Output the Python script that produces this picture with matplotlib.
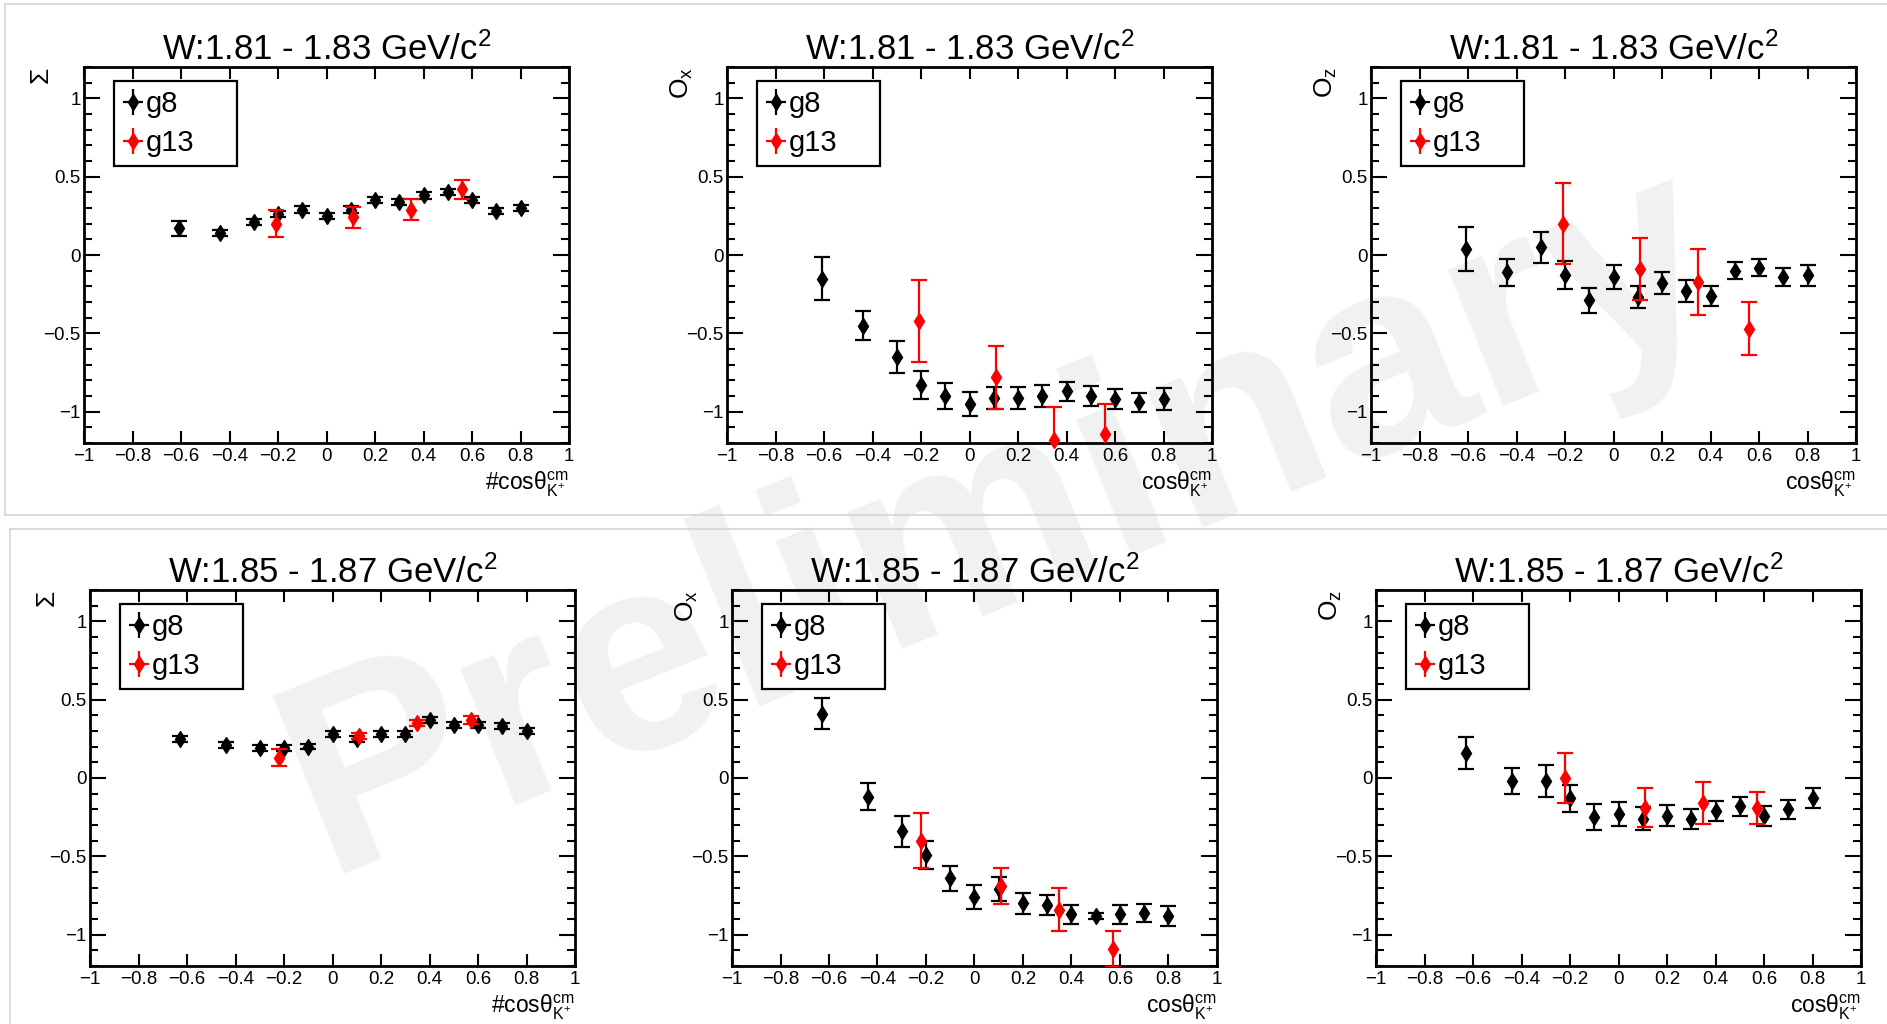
import numpy as np
import matplotlib
matplotlib.use("Agg")
import matplotlib.pyplot as plt
from matplotlib.lines import Line2D
from matplotlib.ticker import FixedLocator, MultipleLocator, FuncFormatter

plt.rcParams['font.family'] = ['Liberation Sans', 'DejaVu Sans']
plt.rcParams['mathtext.fontset'] = 'custom'
plt.rcParams['mathtext.rm'] = 'Liberation Sans'
plt.rcParams['mathtext.it'] = 'Liberation Sans:italic'
plt.rcParams['mathtext.bf'] = 'Liberation Sans:bold'

# ---------------- data ----------------
x8_a = [-0.61, -0.44, -0.30, -0.20, -0.10, 0.00, 0.10, 0.20, 0.30, 0.40, 0.50, 0.60, 0.70, 0.80]
x13_a = [-0.21, 0.11, 0.35, 0.56]
x8_b = [-0.63, -0.44, -0.30, -0.20, -0.10, 0.00, 0.10, 0.20, 0.30, 0.40, 0.50, 0.60, 0.70, 0.80]
x13_b = [-0.22, 0.11, 0.35, 0.57]

sigma_a_g8 = [0.17, 0.14, 0.21, 0.26, 0.29, 0.25, 0.29, 0.35, 0.34, 0.38, 0.40, 0.35, 0.28, 0.30]
sigma_a_g8_err = [0.05, 0.02, 0.02, 0.02, 0.02, 0.02, 0.02, 0.02, 0.02, 0.02, 0.02, 0.02, 0.02, 0.02]
sigma_a_g13 = [0.20, 0.24, 0.29, 0.42]
sigma_a_g13_err = [0.085, 0.065, 0.065, 0.06]

ox_a_g8 = [-0.15, -0.45, -0.65, -0.83, -0.90, -0.95, -0.91, -0.91, -0.90, -0.87, -0.90, -0.92, -0.94, -0.92]
ox_a_g8_err = [0.14, 0.09, 0.10, 0.09, 0.08, 0.075, 0.07, 0.07, 0.07, 0.06, 0.065, 0.065, 0.06, 0.07]
ox_a_g13 = [-0.42, -0.78, -1.18, -1.14]
ox_a_g13_err = [0.26, 0.20, 0.21, 0.19]

oz_a_g8 = [0.04, -0.11, 0.05, -0.13, -0.29, -0.14, -0.27, -0.18, -0.23, -0.26, -0.10, -0.08, -0.14, -0.13]
oz_a_g8_err = [0.14, 0.085, 0.10, 0.09, 0.08, 0.075, 0.07, 0.07, 0.07, 0.065, 0.055, 0.055, 0.06, 0.065]
oz_a_g13 = [0.20, -0.09, -0.17, -0.47]
oz_a_g13_err = [0.26, 0.20, 0.21, 0.17]

sigma_b_g8 = [0.25, 0.21, 0.19, 0.19, 0.20, 0.28, 0.25, 0.28, 0.28, 0.37, 0.34, 0.34, 0.33, 0.30]
sigma_b_g8_err = [0.018] * 14
sigma_b_g13 = [0.13, 0.27, 0.35, 0.37]
sigma_b_g13_err = [0.055, 0.02, 0.02, 0.025]

ox_b_g8 = [0.41, -0.12, -0.34, -0.49, -0.64, -0.76, -0.71, -0.80, -0.81, -0.87, -0.88, -0.87, -0.86, -0.88]
ox_b_g8_err = [0.10, 0.085, 0.10, 0.09, 0.08, 0.075, 0.075, 0.067, 0.065, 0.062, 0.02, 0.06, 0.058, 0.064]
ox_b_g13 = [-0.40, -0.69, -0.84, -1.09]
ox_b_g13_err = [0.175, 0.115, 0.135, 0.115]

oz_b_g8 = [0.16, -0.02, -0.02, -0.13, -0.25, -0.23, -0.26, -0.24, -0.26, -0.21, -0.18, -0.24, -0.20, -0.13]
oz_b_g8_err = [0.10, 0.085, 0.10, 0.087, 0.082, 0.075, 0.075, 0.067, 0.065, 0.064, 0.06, 0.064, 0.059, 0.064]
oz_b_g13 = [0.00, -0.19, -0.16, -0.19]
oz_b_g13_err = [0.158, 0.125, 0.135, 0.103]

titles = ["W:1.81 - 1.83 GeV/c$^{\\mathregular{2}}$", "W:1.85 - 1.87 GeV/c$^{\\mathregular{2}}$"]
ylabels = ["\u03a3", "O$_{\\mathregular{x}}$", "O$_{\\mathregular{z}}$"]
xlabel_hash = "#cos\u03b8$^{\\mathregular{cm}}_{\\mathregular{K^{+}}}$"
xlabel_plain = "cos\u03b8$^{\\mathregular{cm}}_{\\mathregular{K^{+}}}$"
series_labels = ["g8", "g13"]
x_ticks = [-1, -0.8, -0.6, -0.4, -0.2, 0, 0.2, 0.4, 0.6, 0.8, 1]
y_ticks = [-1, -0.5, 0, 0.5, 1]

panels = [
    (0, 0, x8_a, sigma_a_g8, sigma_a_g8_err, x13_a, sigma_a_g13, sigma_a_g13_err, 0, 0, xlabel_hash),
    (0, 1, x8_a, ox_a_g8, ox_a_g8_err, x13_a, ox_a_g13, ox_a_g13_err, 0, 1, xlabel_plain),
    (0, 2, x8_a, oz_a_g8, oz_a_g8_err, x13_a, oz_a_g13, oz_a_g13_err, 0, 2, xlabel_plain),
    (1, 0, x8_b, sigma_b_g8, sigma_b_g8_err, x13_b, sigma_b_g13, sigma_b_g13_err, 1, 0, xlabel_hash),
    (1, 1, x8_b, ox_b_g8, ox_b_g8_err, x13_b, ox_b_g13, ox_b_g13_err, 1, 1, xlabel_plain),
    (1, 2, x8_b, oz_b_g8, oz_b_g8_err, x13_b, oz_b_g13, oz_b_g13_err, 1, 2, xlabel_plain),
]

# ---------------- layout (pixels) ----------------
W, H = 1887, 1024
fig = plt.figure(figsize=(W / 100, H / 100), dpi=100)
fig.patch.set_facecolor('white')

lefts = [[84, 727, 1371], [90, 732, 1376]]
tops = [67, 590]
ax_w, ax_h = 485, 376

frame_col = '#d4d4d4'
def fline(x0, y0, x1, y1):
    fig.add_artist(Line2D([x0 / W, x1 / W], [1 - y0 / H, 1 - y1 / H],
                          color=frame_col, lw=1.2, transform=fig.transFigure))
fline(5, 4, W, 4)
fline(5, 4, 5, 515)
fline(5, 515, W, 515)
fline(10, 529, W, 529)
fline(10, 529, 10, H)

# watermark
fig.text(0.530, 0.488, "Preliminary", rotation=22.0, ha='center', va='center',
         fontsize=200, fontweight='bold', color='#f1f1f1', zorder=-5)

def fmt(v, pos=None):
    s = f"{v:g}"
    if s == "-0":
        s = "0"
    return s.replace("-", "\u2212")

MS = 8.4

for (r, c, x8, y8, e8, x13, y13, e13, ti, yi, xl) in panels:
    l = lefts[r][c]
    t = tops[r]
    ax = fig.add_axes([l / W, 1 - (t + ax_h) / H, ax_w / W, ax_h / H])
    ax.patch.set_alpha(0.0)
    ax.set_xlim(-1, 1)
    ax.set_ylim(-1.2, 1.2)

    ax.xaxis.set_major_locator(FixedLocator(x_ticks))
    ax.yaxis.set_major_locator(FixedLocator(y_ticks))
    ax.yaxis.set_minor_locator(MultipleLocator(0.1))
    ax.xaxis.set_major_formatter(FuncFormatter(fmt))
    ax.yaxis.set_major_formatter(FuncFormatter(fmt))
    ax.tick_params(axis='both', which='both', direction='in', top=True, right=True, width=1.5)
    ax.tick_params(axis='x', which='major', length=8.5, pad=3.5, labelsize=13.5)
    ax.tick_params(axis='y', which='major', length=11.5, pad=2.5, labelsize=13.5)
    ax.tick_params(axis='y', which='minor', length=5.8)
    for sp in ax.spines.values():
        sp.set_linewidth(2.0)

    # g8
    ax.errorbar(x8, y8, yerr=e8, fmt='none', ecolor='black', elinewidth=1.6,
                capsize=5.5, capthick=1.6, zorder=3)
    ax.plot(x8, y8, ls='none', marker='d', ms=MS, color='black', mec='black', mew=1.0,
            clip_on=False, zorder=4)
    # g13
    ax.errorbar(x13, y13, yerr=e13, fmt='none', ecolor='#ff0000', elinewidth=1.6,
                capsize=5.5, capthick=1.6, zorder=5)
    ax.plot(x13, y13, ls='none', marker='d', ms=MS, color='#ff0000', mec='#ff0000', mew=1.0,
            clip_on=False, zorder=6)

    ax.set_title(titles[ti], fontsize=25, pad=4)
    ax.set_ylabel(ylabels[yi], fontsize=19, loc='top')
    ax.yaxis.set_label_coords(-0.065, 1.0)
    ax.set_xlabel(xl, fontsize=16.5, loc='right')
    ax.xaxis.set_label_coords(1.0, -0.072)
    ax.xaxis.label.set_va('top')

    # legend with ROOT-like "lep" symbols
    handles = []
    for col in ['black', '#ff0000']:
        h1 = Line2D([], [], ls='none', marker='|', ms=19, mew=1.6, color=col)
        h2 = Line2D([], [], ls='none', marker='_', ms=14, mew=1.6, color=col)
        h3 = Line2D([], [], ls='none', marker='d', ms=MS, color=col, mec=col)
        handles.append((h1, h2, h3))
    x0 = 30 / ax_w
    y1 = 1 - 14 / ax_h
    leg = ax.legend(handles, series_labels, loc='upper left',
                    bbox_to_anchor=(x0, y1 - 0.3, 123 / ax_w, 0.3), mode='expand',
                    borderaxespad=0, fontsize=21, frameon=True, fancybox=False,
                    numpoints=1, handlelength=0.7, handletextpad=0.1,
                    borderpad=0.3, labelspacing=0.4)
    fr = leg.get_frame()
    fr.set_edgecolor('black')
    fr.set_linewidth(1.6)
    fr.set_facecolor('white')
    fr.set_alpha(None)

fig.savefig("out.png", dpi=100)
